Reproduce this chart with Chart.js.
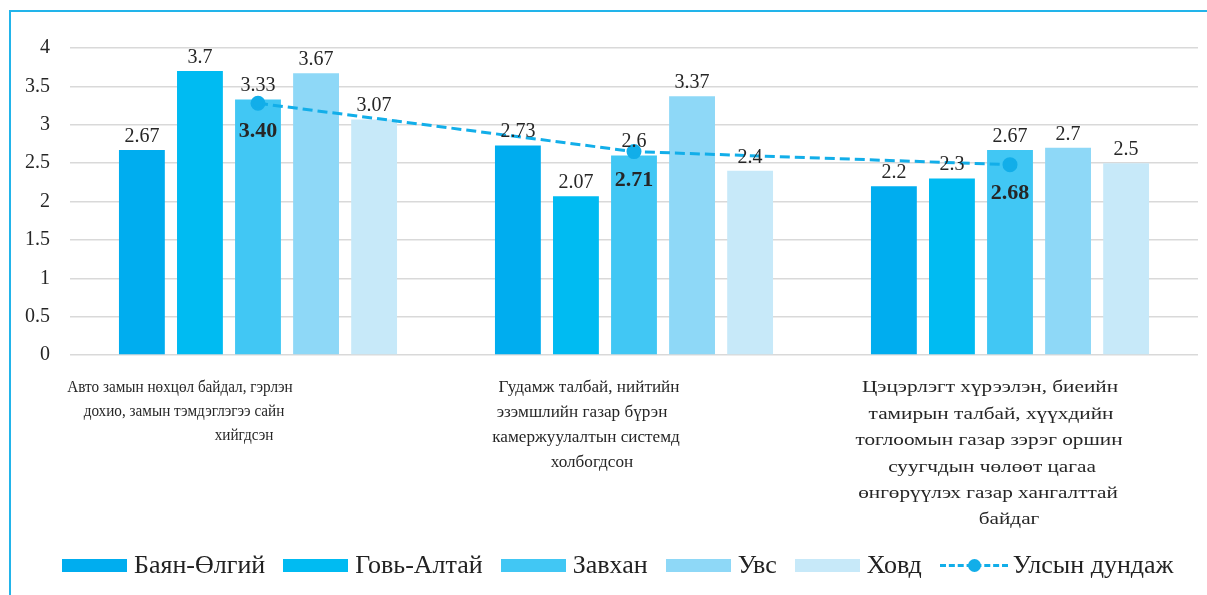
<!DOCTYPE html>
<html>
<head>
<meta charset="utf-8">
<script src="https://cdn.jsdelivr.net/npm/chart.js@4"></script>
<style>
  html, body { margin: 0; padding: 0; background: #fff; }
  #wrap { position: relative; width: 1207px; height: 595px; overflow: hidden; }
  #frame { position: absolute; left: 9px; top: 10px; right: -5px; bottom: -5px;
           border-top: 2px solid #22b4ea; border-left: 2px solid #22b4ea; }
  #chart { position: absolute; left: 0; top: 0; }
  #legend { position: absolute; left: 62px; top: 549px; height: 32px; display: flex; align-items: center;
            font-family: "Liberation Serif", "DejaVu Serif", serif; font-size: 26px; color: #222; white-space: nowrap; }
  .item { display: flex; align-items: center; margin-right: 18px; }
  .box { width: 65px; height: 13px; margin-right: 7px; }
  .lineKey { position: relative; width: 68px; height: 13px; margin-right: 5px; }
  .lineKey .dash { position: absolute; left: 0; right: 0; top: 5px; border-top: 3px dashed #12aee9; }
  .lineKey .dot { position: absolute; left: 28px; top: 0; width: 13px; height: 13px; border-radius: 50%; background: #12aee9; }
</style>
</head>
<body>
<div id="wrap">
  <div id="frame"></div>
  <canvas id="chart" width="1207" height="595"></canvas>
  <div id="legend"></div>
</div>
<script>
const categories = [
  ["Авто замын нөхцөл байдал, гэрлэн", "дохио, замын тэмдэглэгээ сайн", "хийгдсэн"],
  ["Гудамж талбай, нийтийн", "эзэмшлийн газар бүрэн", "камержуулалтын системд", "холбогдсон"],
  ["Цэцэрлэгт хүрээлэн, биеийн", "тамирын талбай, хүүхдийн", "тоглоомын газар зэрэг оршин", "суугчдын чөлөөт цагаа", "өнгөрүүлэх газар хангалттай", "байдаг"]
]
const seriesNames = ["Баян-Өлгий", "Говь-Алтай", "Завхан", "Увс", "Ховд"]
const bayanUlgii = [2.67, 2.73, 2.2]
const govAltai = [3.7, 2.07, 2.3]
const zavkhan = [3.33, 2.6, 2.67]
const uvs = [3.67, 3.37, 2.7]
const khovd = [3.07, 2.4, 2.5]
const avgName = "Улсын дундаж"
// line is plotted at these heights in the picture, labelled with the values below
const nationalAvg = [3.28, 2.65, 2.48]
const nationalAvgLabels = ["3.40", "2.71", "2.68"]
const yTicks = [0, 0.5, 1, 1.5, 2, 2.5, 3, 3.5, 4]

const barColors = ["#00adef", "#00bbf2", "#41c7f4", "#8ed8f7", "#c7e9f9"]
const lineColor = "#12aee9"
const serif = '"Liberation Serif", "DejaVu Serif", serif'
// the three category texts are not set the same way in the picture
const labelStyle = [
  { size: 16, stretch: 0.95, gap: 24, shift: [-78, -74, -14] },
  { size: 16.5, stretch: 1.04, gap: 25, shift: [-45, -52, -48, -42] },
  { size: 17, stretch: 1.25, gap: 26.4, shift: [-20, -19, -21, -18, -22, -1] }
]

let seriesValues = [bayanUlgii, govAltai, zavkhan, uvs, khovd]
let datasets = []
for (let i = 0; i < seriesNames.length; i++) {
  datasets.push({
    type: 'bar',
    label: seriesNames[i],
    data: seriesValues[i],
    backgroundColor: barColors[i],
    categoryPercentage: 0.772,
    barPercentage: 0.79,
    order: 2
  })
}
datasets.push({
  type: 'line',
  label: avgName,
  data: nationalAvg,
  borderColor: lineColor,
  backgroundColor: lineColor,
  borderWidth: 3,
  borderDash: [10, 5],
  pointRadius: 6,
  pointHoverRadius: 6,
  fill: false,
  order: 1
})

// value labels over bars and under line points
const valueLabels = {
  id: 'valueLabels',
  afterDatasetsDraw(chart) {
    const ctx = chart.ctx
    ctx.save()
    ctx.fillStyle = '#262626'
    ctx.textAlign = 'center'
    ctx.textBaseline = 'alphabetic'
    chart.data.datasets.forEach((ds, di) => {
      const meta = chart.getDatasetMeta(di)
      meta.data.forEach((el, j) => {
        if (ds.type === 'bar') {
          ctx.font = '20px ' + serif
          ctx.fillText(String(ds.data[j]), el.x, el.y - 8)
        } else {
          ctx.font = 'bold 22px ' + serif
          ctx.fillText(nationalAvgLabels[j], el.x, el.y + 34)
        }
      })
    })
    ctx.restore()
  }
}

// wrapped category labels under the axis
const categoryText = {
  id: 'categoryText',
  afterDraw(chart) {
    const ctx = chart.ctx
    const xs = chart.scales.x
    const base = chart.chartArea.bottom
    ctx.fillStyle = '#262626'
    ctx.textAlign = 'center'
    ctx.textBaseline = 'middle'
    categories.forEach((lines, i) => {
      let st = labelStyle[i]
      let cx = xs.getPixelForTick(i)
      ctx.font = st.size + 'px ' + serif
      lines.forEach((line, k) => {
        ctx.save()
        ctx.translate(cx + st.shift[k], base + 33 + k * st.gap)
        ctx.scale(st.stretch, 1)
        ctx.fillText(line, 0, 0)
        ctx.restore()
      })
    })
  }
}

new Chart(document.getElementById('chart'), {
  data: { labels: categories.map(c => c.join(' ')), datasets: datasets },
  options: {
    responsive: false,
    animation: false,
    layout: { padding: { left: 10, right: 4, top: 48, bottom: 0 } },
    plugins: { legend: { display: false }, tooltip: { enabled: false } },
    scales: {
      x: {
        grid: { display: false },
        border: { display: false },
        ticks: { display: false },
        afterFit(scale) { scale.height = 240 }
      },
      y: {
        min: 0,
        max: 4,
        afterBuildTicks(scale) { scale.ticks = yTicks.map(v => ({ value: v })) },
        grid: { color: '#d9d9d9', lineWidth: 1.5, drawTicks: false },
        border: { display: false },
        ticks: { color: '#262626', font: { family: serif, size: 20 }, padding: 20, callback: v => String(v) },
        afterFit(scale) { scale.width = 60 }
      }
    }
  },
  plugins: [valueLabels, categoryText]
})

// legend below the chart
let legend = document.getElementById('legend')
for (let i = 0; i < seriesNames.length; i++) {
  legend.innerHTML += `<div class="item"><div class="box" style="background:${barColors[i]}"></div>${seriesNames[i]}</div>`
}
legend.innerHTML += `<div class="item"><div class="lineKey"><div class="dash"></div><div class="dot"></div></div>${avgName}</div>`
</script>
</body>
</html>
